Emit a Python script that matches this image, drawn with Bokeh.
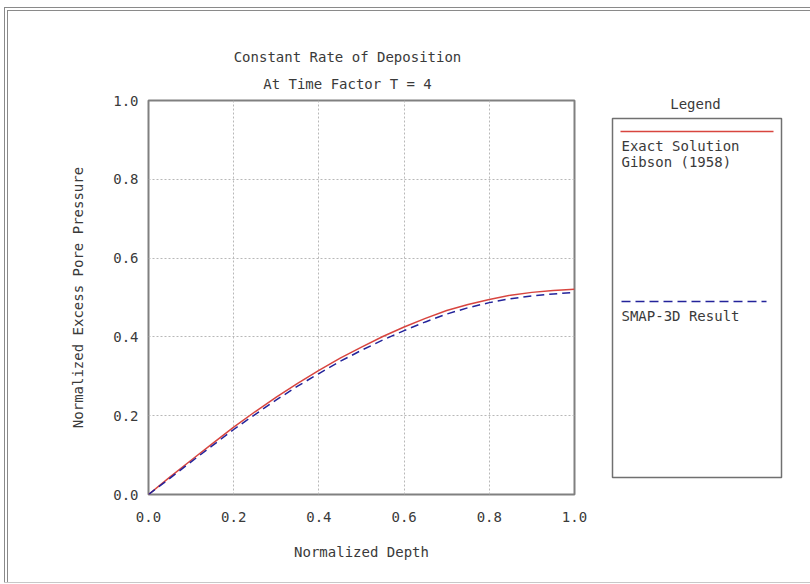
from bokeh.plotting import figure
from bokeh.layouts import row, column
from bokeh.models import FixedTicker, NumeralTickFormatter, Range1d, Title
from bokeh.core.properties import value
from bokeh.embed import file_html
from bokeh.resources import INLINE

# ---- data ----
depth = [0.0, 0.05, 0.1, 0.15, 0.2, 0.25, 0.3, 0.35, 0.4, 0.45, 0.5,
         0.55, 0.6, 0.65, 0.7, 0.75, 0.8, 0.85, 0.9, 0.95, 1.0]
exact = [0.0, 0.044, 0.087, 0.129, 0.171, 0.210, 0.247, 0.282, 0.315, 0.346, 0.374,
         0.401, 0.425, 0.447, 0.467, 0.482, 0.495, 0.506, 0.513, 0.518, 0.521]
smap = [0.0, 0.041, 0.083, 0.124, 0.165, 0.203, 0.240, 0.275, 0.307, 0.338, 0.366,
        0.392, 0.416, 0.438, 0.458, 0.474, 0.487, 0.497, 0.504, 0.509, 0.513]
ticks = [0.0, 0.2, 0.4, 0.6, 0.8, 1.0]
title_lines = ["Constant Rate of Deposition", "At Time Factor T = 4"]
x_title = "Normalized Depth"
y_title = "Normalized Excess Pore Pressure"
legend_title = "Legend"
series_names = ["Exact Solution\nGibson (1958)", "SMAP-3D Result"]

FONT = "DejaVu Sans Mono"
FS = "14px"
CHAR_W = 8.43  # advance of DejaVu Sans Mono at 14px
TXT = "#3a3a3a"
RED = "#d8453f"
BLUE = "#23239a"

H = 584
P1W = 600
FL, FT, FR, FB = 148, 100, 574, 494  # main frame edges in canvas px

p = figure(width=P1W, height=H, x_range=(0, 1), y_range=(0, 1),
           min_border_left=FL, min_border_right=P1W - FR,
           min_border_top=FT, min_border_bottom=H - FB,
           output_backend="svg", toolbar_location=None)
p.background_fill_color = "white"
p.border_fill_color = None
p.outline_line_color = "#808080"
p.outline_line_width = 2

for ax in (p.xaxis[0], p.yaxis[0]):
    ax.ticker = FixedTicker(ticks=ticks)
    ax.formatter = NumeralTickFormatter(format="0.0")
    ax.axis_line_color = None
    ax.major_tick_line_color = None
    ax.minor_tick_line_color = None
    ax.major_tick_out = 0
    ax.major_tick_in = 0
    ax.major_label_text_font = FONT
    ax.major_label_text_font_size = FS
    ax.major_label_text_color = TXT
    ax.axis_label_text_font = FONT
    ax.axis_label_text_font_size = FS
    ax.axis_label_text_font_style = "normal"
    ax.axis_label_text_color = TXT

p.xaxis.axis_label = x_title
p.yaxis.axis_label = y_title
p.xaxis.major_label_standoff = 17
p.xaxis.axis_label_standoff = 19
p.yaxis.major_label_standoff = 10
p.yaxis.axis_label_standoff = 24

p.grid.grid_line_color = "#b8b8b8"
p.grid.grid_line_dash = "2 2"
p.grid.grid_line_width = 1
p.xgrid.ticker = FixedTicker(ticks=ticks)
p.ygrid.ticker = FixedTicker(ticks=ticks)

p.line(depth, exact, line_color=RED, line_width=1.5)
p.line(depth, smap, line_color=BLUE, line_width=1.5, line_dash="8 5")

# two title lines, each centred on x = 347
TITLE_CX = 347
p.title.visible = False
for line, standoff in ((title_lines[1], 18), (title_lines[0], 0)):
    off = TITLE_CX - FL - len(line) * CHAR_W / 2
    p.add_layout(Title(text=line, align="left", offset=off, standoff=standoff,
                       text_font=FONT, text_font_size=FS, text_font_style="normal",
                       text_color=TXT), "above")

# ---- legend panel (pixel coordinates) ----
LW = 810 - P1W
LT = 90
q = figure(width=LW, height=H, x_range=Range1d(P1W, 810), y_range=Range1d(FB, LT),
           min_border_left=0, min_border_right=0,
           min_border_top=LT, min_border_bottom=H - FB,
           x_axis_type=None, y_axis_type=None,
           output_backend="svg", toolbar_location=None)
q.background_fill_color = None
q.border_fill_color = None
q.outline_line_color = None
q.grid.visible = False
q.title.visible = False

q.quad(left=[612], right=[781], top=[118], bottom=[477], fill_color=None,
       line_color="#707070", line_width=1.5)
q.text(x=[695], y=[103], text=[legend_title], text_font=value(FONT),
       text_font_size=value(FS), text_color=TXT, text_align="center",
       text_baseline="middle")
q.line([620, 773], [131, 131], line_color=RED, line_width=1.5)
q.line([621, 766], [301, 301], line_color=BLUE, line_width=1.5, line_dash="9 5")
q.text(x=[621, 621], y=[137, 307], text=series_names, text_font=value(FONT),
       text_font_size=value(FS), text_color=TXT, text_align="left",
       text_baseline="top", text_line_height=1.05)

css = {
    "background-color": "white",
    "background-image": ", ".join(["linear-gradient(#8a8a8a, #8a8a8a)"] * 4
                                  + ["linear-gradient(#c8c8c8, #c8c8c8)"]),
    "background-size": "1px 575px, 1px 572px, 900px 1px, 900px 1px, 900px 1px",
    "background-position": "4px 7px, 7px 10px, 4px 7px, 7px 10px, 4px 582px",
    "background-repeat": "no-repeat",
}
layout = row(p, column(q), spacing=0, styles=css)

open("out.html", "w").write(file_html(layout, INLINE))
